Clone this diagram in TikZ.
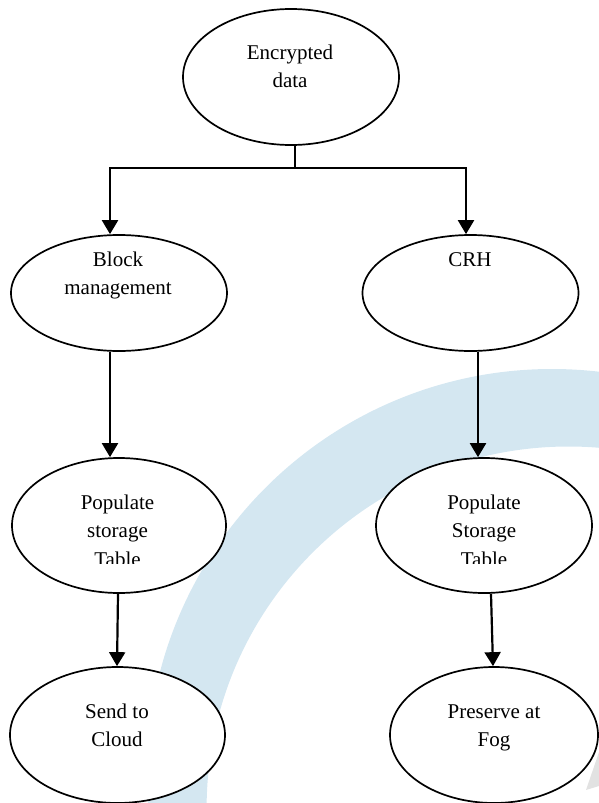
\documentclass[tikz,border=0pt]{standalone}
\usepackage{fontspec}
\setmainfont{Liberation Serif}
\usetikzlibrary{arrows.meta,shapes.geometric}
\definecolor{bandblue}{HTML}{D4E7F1}
\definecolor{wmgray}{HTML}{E2E2E2}
\begin{document}
\begin{tikzpicture}[x=1pt,y=-1pt,
  oval/.style={draw=black,line width=1.7pt,fill=white,ellipse,inner sep=0pt},
  conn/.style={draw=black,line width=2.2pt},
  arr/.style={conn,-{Triangle[width=16pt,length=14pt]}},
  lbl/.style={anchor=base,inner sep=0pt,font=\fontsize{21}{28.5}\selectfont}]
\useasboundingbox (0,0) rectangle (599,803);
% watermark
\fill[bandblue,even odd rule] (552,774) circle[radius=405pt] (568.6,808.5) circle[radius=362pt];
\fill[wmgray] (599,752) -- (586,790) -- (599,786) -- cycle;
% ellipses
\node[oval,minimum width=216pt,minimum height=136pt] (e0) at (291,77) {};
\node[oval,minimum width=216pt,minimum height=116pt] (b1) at (119,293) {};
\node[oval,minimum width=216pt,minimum height=116pt] (c1) at (470.5,293) {};
\node[oval,minimum width=214pt,minimum height=135pt] (p1) at (119,525.5) {};
\node[oval,minimum width=216pt,minimum height=135pt] (p2) at (484,525.5) {};
\node[oval,minimum width=215pt,minimum height=136pt] (s1) at (117.5,735) {};
\node[oval,minimum width=208pt,minimum height=136pt] (f1) at (494,735) {};
% connectors
\draw[conn] ([xshift=4pt]e0.south) -- ++(0,22) coordinate (j);
\draw[arr] (j) -| ([xshift=-9pt]b1.north);
\draw[arr] (j) -| ([xshift=-4.5pt]c1.north);
\draw[arr] ([xshift=-9pt]b1.south) -- ([xshift=-9pt]p1.north);
\draw[arr] ([xshift=7.5pt]c1.south) -- ([xshift=-6pt]p2.north);
\draw[arr] ([xshift=-1pt]p1.south) -- ([xshift=-0.5pt]s1.north);
\draw[arr] ([xshift=7pt]p2.south) -- ([xshift=-1pt]f1.north);
% texts
\node[lbl] (t0) at (290,59) {\begin{tabular}[t]{@{}c@{}}Encrypted\\data\end{tabular}};
\node[lbl] (t1) at (118,266) {\begin{tabular}[t]{@{}c@{}}Block\\management\end{tabular}};
\node[lbl] (t2) at (470,266) {CRH};
\begin{scope}
\clip (0,0) rectangle (599,563);
\node[lbl] (t3) at (117.5,509) {\begin{tabular}[t]{@{}c@{}}Populate\\storage\\Table\end{tabular}};
\node[lbl] (t4) at (484,509) {\begin{tabular}[t]{@{}c@{}}Populate\\Storage\\Table\end{tabular}};
\end{scope}
\node[lbl] (t5) at (117,718) {\begin{tabular}[t]{@{}c@{}}Send to\\Cloud\end{tabular}};
\node[lbl] (t6) at (494,718) {\begin{tabular}[t]{@{}c@{}}Preserve at\\Fog\end{tabular}};
\end{tikzpicture}
\end{document}
